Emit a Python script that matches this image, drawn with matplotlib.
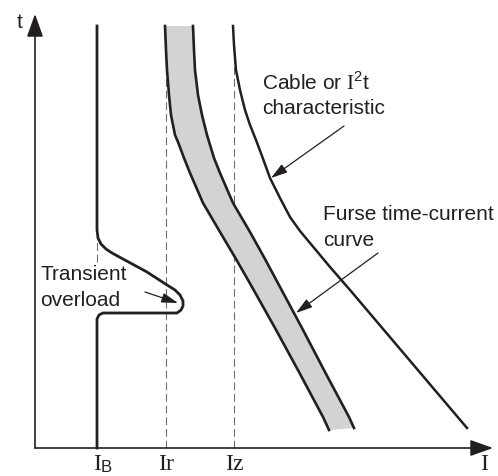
from __future__ import annotations

import matplotlib.pyplot as plt

# curve points (current on x, time on y, origin at the axes corner)
LOAD_I = [62, 62, 63, 66, 71, 77, 88, 112, 132, 140, 145, 148, 148, 146, 142, 68, 64, 62, 62]
LOAD_T = [422, 218, 210, 204, 199, 195, 189, 176, 163, 158, 153, 147, 142, 138, 135, 135, 133, 129, 0]

FUSE_MIN_I = [130, 131, 132, 134, 136, 140, 143, 149, 155, 168, 185, 201, 217, 240, 264, 288, 294]
FUSE_MIN_T = [422, 398, 378, 353, 333, 313, 306, 290, 275, 245, 216, 189, 161, 120, 76, 31, 18]
FUSE_MAX_I = [158, 159, 160, 163, 167, 172, 179, 185, 198, 215, 230, 245, 267, 290, 314, 319]
FUSE_MAX_T = [422, 398, 378, 353, 333, 313, 290, 275, 245, 216, 189, 161, 120, 76, 31, 20]

CABLE_I = [198, 199, 201, 205, 210, 215, 221, 227, 235, 245, 255, 265, 275, 295, 315, 432]
CABLE_T = [422, 403, 378, 358, 338, 323, 308, 292, 270, 250, 231, 217, 205, 181, 158, 20]

# vertical reference lines: (current, top of dashed segment, bottom of dashed segment)
REF_LINES = [(62, 212, 186), (131, 388, 0), (199, 403, 0)]

TICK_POS = [62, 131, 199, 449]
TICK_LABELS = ["I", "Ir", "Iz", "I"]
TICK_SUBS = ["B", "", "", ""]

X_MAX = 458
T_MAX = 434

INK = "#231f20"


def arrow(ax, start, tip, lw=0.9, scale=20, hl=0.5, hw=0.15):
    ax.annotate(
        "",
        xy=tip,
        xytext=start,
        arrowprops=dict(
            arrowstyle=f"-|>,head_length={hl},head_width={hw}",
            lw=lw,
            color=INK,
            shrinkA=0,
            shrinkB=0,
            mutation_scale=scale,
        ),
    )


def main() -> None:
    plt.rcParams["font.family"] = ["Liberation Sans", "DejaVu Sans"]
    plt.rcParams["mathtext.fontset"] = "custom"
    plt.rcParams["mathtext.rm"] = "Liberation Serif"
    plt.rcParams["mathtext.sf"] = "Liberation Sans"

    fig = plt.figure(figsize=(4.98, 4.76), dpi=100)
    ax = fig.add_axes([0, 0, 1, 1])
    ax.set_xlim(-35, 463)
    ax.set_ylim(-28, 448)
    ax.axis("off")

    # dashed guides
    for x, top, bottom in REF_LINES:
        ax.plot([x, x], [bottom, top], color="#6d6e71", lw=0.8,
                dashes=(7, 3.5), zorder=1)

    # fuse band
    band_x = FUSE_MIN_I + FUSE_MAX_I[::-1]
    band_y = FUSE_MIN_T + FUSE_MAX_T[::-1]
    ax.fill(band_x, band_y, color="#d1d3d4", lw=0, zorder=2)
    ax.plot(FUSE_MIN_I, FUSE_MIN_T, color=INK, lw=1.9, zorder=3)
    ax.plot(FUSE_MAX_I, FUSE_MAX_T, color=INK, lw=1.9, zorder=3)

    ax.plot(CABLE_I, CABLE_T, color=INK, lw=1.8, zorder=3)
    ax.plot(LOAD_I, LOAD_T, color=INK, lw=2.0, zorder=3, solid_joinstyle="round")

    # axes with arrow heads
    arrow(ax, (0, 0), (X_MAX, 0), lw=1.2, hl=0.7, hw=0.25)
    arrow(ax, (0, 0), (0, T_MAX), lw=1.2, hl=0.7, hw=0.25)

    for pos, lab, sub in zip(TICK_POS, TICK_LABELS, TICK_SUBS):
        ax.text(pos, -22, lab, fontsize=17, family="Liberation Serif",
                ha="center", va="baseline", color=INK)
        if sub:
            ax.text(pos + 3.5, -24, sub, fontsize=12, ha="left", va="baseline",
                    color=INK)
    ax.text(-15.5, 420, "t", fontsize=15, ha="center", va="baseline", color=INK)

    # annotations
    ax.text(227, 366, r"Cable or $\mathrm{I}^{\mathsf{2}}$t", fontsize=15,
            va="center", color=INK)
    ax.text(227, 340, "characteristic", fontsize=15, va="center", color=INK)
    arrow(ax, (309, 322), (236, 270))

    ax.text(288, 234, "Furse time-current", fontsize=15, va="center", color=INK)
    ax.text(288, 207, "curve", fontsize=15, va="center", color=INK)
    arrow(ax, (343, 195), (261, 135))

    ax.text(5, 173, "Transient", fontsize=15, va="center", color=INK)
    ax.text(5, 148, "overload", fontsize=15, va="center", color=INK)
    arrow(ax, (110, 156), (143, 145))

    fig.savefig("out.png", dpi=100)
    plt.close(fig)


if __name__ == "__main__":
    main()
